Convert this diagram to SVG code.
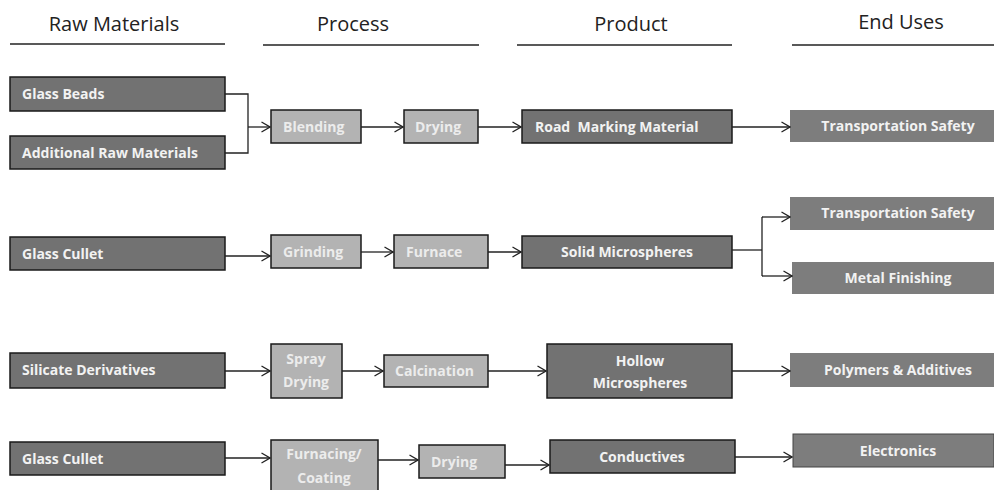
<svg xmlns="http://www.w3.org/2000/svg" width="994" height="490" viewBox="0 0 994 490">
<defs>
<marker id="arr" viewBox="0 0 10 12" refX="9.5" refY="6" markerWidth="10" markerHeight="12" markerUnits="userSpaceOnUse" orient="auto">
<path d="M1,1 L9.5,6 L1,11" fill="none" stroke="#222" stroke-width="1.3"/>
</marker>
</defs>
<style>
.hdr{font-family:"Open Sans","Liberation Sans",sans-serif;font-size:20px;fill:#222;text-anchor:middle}
.rule{stroke:#222;stroke-width:1.3}
.dark{fill:#727272;stroke:#1a1a1a;stroke-width:1.5}
.light{fill:#b3b3b3;stroke:#1a1a1a;stroke-width:1.5}
.use{fill:#7d7d7d}
.t{font-family:"Open Sans","Liberation Sans",sans-serif;font-size:14px;font-weight:bold;fill:#f2f2f2}
.tl{font-family:"Open Sans","Liberation Sans",sans-serif;font-size:14px;font-weight:bold;fill:#ececec}
.c{text-anchor:middle}
.con{fill:none;stroke:#222;stroke-width:1.3}
</style>
<rect width="994" height="490" fill="#fff"/>
<g id="headers">
<text class="hdr" x="114" y="31">Raw Materials</text>
<text class="hdr" x="353" y="31">Process</text>
<text class="hdr" x="631" y="31">Product</text>
<text class="hdr" x="901" y="29">End Uses</text>
<line class="rule" x1="10" y1="44" x2="225" y2="44"/>
<line class="rule" x1="263" y1="45" x2="479" y2="45"/>
<line class="rule" x1="517" y1="45" x2="732" y2="45"/>
<line class="rule" x1="792" y1="45" x2="994" y2="45"/>
</g>
<g id="n-glass-beads"><rect class="dark" x="10" y="77" width="215" height="34"/><text class="t" x="22" y="99">Glass Beads</text></g>
<g id="n-additional"><rect class="dark" x="10" y="136" width="215" height="33"/><text class="t" x="22" y="158">Additional Raw Materials</text></g>
<g id="n-blending"><rect class="light" x="271" y="110" width="90" height="33"/><text class="tl" x="283" y="132">Blending</text></g>
<g id="n-drying1"><rect class="light" x="404" y="110" width="74" height="33"/><text class="tl" x="415" y="132">Drying</text></g>
<g id="n-road"><rect class="dark" x="522" y="110" width="210" height="33"/><text class="t" x="535" y="132" xml:space="preserve">Road  Marking Material</text></g>
<g id="n-transport1"><rect class="use" x="790" y="110" width="204" height="32"/><text class="t c" x="898" y="131">Transportation Safety</text></g>

<g id="n-glass-cullet1"><rect class="dark" x="10" y="237" width="215" height="33"/><text class="t" x="22" y="259">Glass Cullet</text></g>
<g id="n-grinding"><rect class="light" x="271" y="235" width="90" height="33"/><text class="tl" x="283" y="257">Grinding</text></g>
<g id="n-furnace"><rect class="light" x="394" y="235" width="94" height="33"/><text class="tl" x="406" y="257">Furnace</text></g>
<g id="n-solid"><rect class="dark" x="522" y="236" width="210" height="32"/><text class="t c" x="627" y="257">Solid Microspheres</text></g>
<g id="n-transport2"><rect class="use" x="790" y="197" width="204" height="33"/><text class="t c" x="898" y="218">Transportation Safety</text></g>
<g id="n-metal"><rect class="use" x="792" y="262" width="202" height="32"/><text class="t c" x="898" y="283">Metal Finishing</text></g>

<g id="n-silicate"><rect class="dark" x="10" y="353" width="215" height="35"/><text class="t" x="22" y="375">Silicate Derivatives</text></g>
<g id="n-spray"><rect class="light" x="271" y="344" width="71" height="54"/><text class="tl c" x="306" y="364">Spray</text><text class="tl c" x="306" y="387">Drying</text></g>
<g id="n-calcination"><rect class="light" x="384" y="355" width="104" height="32"/><text class="tl" x="395" y="376">Calcination</text></g>
<g id="n-hollow"><rect class="dark" x="547" y="344" width="185" height="54"/><text class="t c" x="640" y="366">Hollow</text><text class="t c" x="640" y="388">Microspheres</text></g>
<g id="n-polymers"><rect class="use" x="790" y="353" width="204" height="34"/><text class="t c" x="898" y="375">Polymers &amp; Additives</text></g>

<g id="n-glass-cullet2"><rect class="dark" x="10" y="442" width="215" height="33"/><text class="t" x="22" y="464">Glass Cullet</text></g>
<g id="n-furnacing"><rect class="light" x="271" y="440" width="107" height="56"/><text class="tl c" x="324" y="459">Furnacing/</text><text class="tl c" x="324" y="483">Coating</text></g>
<g id="n-drying2"><rect class="light" x="419" y="445" width="86" height="33"/><text class="tl" x="431" y="467">Drying</text></g>
<g id="n-conductives"><rect class="dark" x="550" y="440" width="185" height="33"/><text class="t c" x="642" y="462">Conductives</text></g>
<g id="n-electronics"><rect class="use" x="793" y="434" width="201" height="33" stroke="#444" stroke-width="1"/><text class="t c" x="898" y="456">Electronics</text></g>

<g id="connectors">
<polyline class="con" points="225,94 248,94 248,153 225,153"/>
<line class="con" x1="248" y1="127" x2="270" y2="127" marker-end="url(#arr)"/>
<line class="con" x1="361" y1="127" x2="403" y2="127" marker-end="url(#arr)"/>
<line class="con" x1="478" y1="127" x2="521" y2="127" marker-end="url(#arr)"/>
<line class="con" x1="732" y1="127" x2="790" y2="127" marker-end="url(#arr)"/>

<line class="con" x1="225" y1="256" x2="270" y2="256" marker-end="url(#arr)"/>
<line class="con" x1="361" y1="252" x2="393" y2="252" marker-end="url(#arr)"/>
<line class="con" x1="488" y1="252" x2="521" y2="252" marker-end="url(#arr)"/>
<polyline class="con" points="732,250 762,250"/>
<polyline class="con" points="762,217 762,276"/>
<line class="con" x1="762" y1="217" x2="790" y2="217" marker-end="url(#arr)"/>
<line class="con" x1="762" y1="276" x2="792" y2="276" marker-end="url(#arr)"/>

<line class="con" x1="225" y1="371" x2="270" y2="371" marker-end="url(#arr)"/>
<line class="con" x1="342" y1="371" x2="383" y2="371" marker-end="url(#arr)"/>
<line class="con" x1="488" y1="371" x2="546" y2="371" marker-end="url(#arr)"/>
<line class="con" x1="732" y1="371" x2="790" y2="371" marker-end="url(#arr)"/>

<line class="con" x1="225" y1="458" x2="270" y2="458" marker-end="url(#arr)"/>
<line class="con" x1="378" y1="460" x2="418" y2="460" marker-end="url(#arr)"/>
<line class="con" x1="505" y1="465" x2="549" y2="465" marker-end="url(#arr)"/>
<line class="con" x1="735" y1="457" x2="792" y2="457" marker-end="url(#arr)"/>
</g>
</svg>
